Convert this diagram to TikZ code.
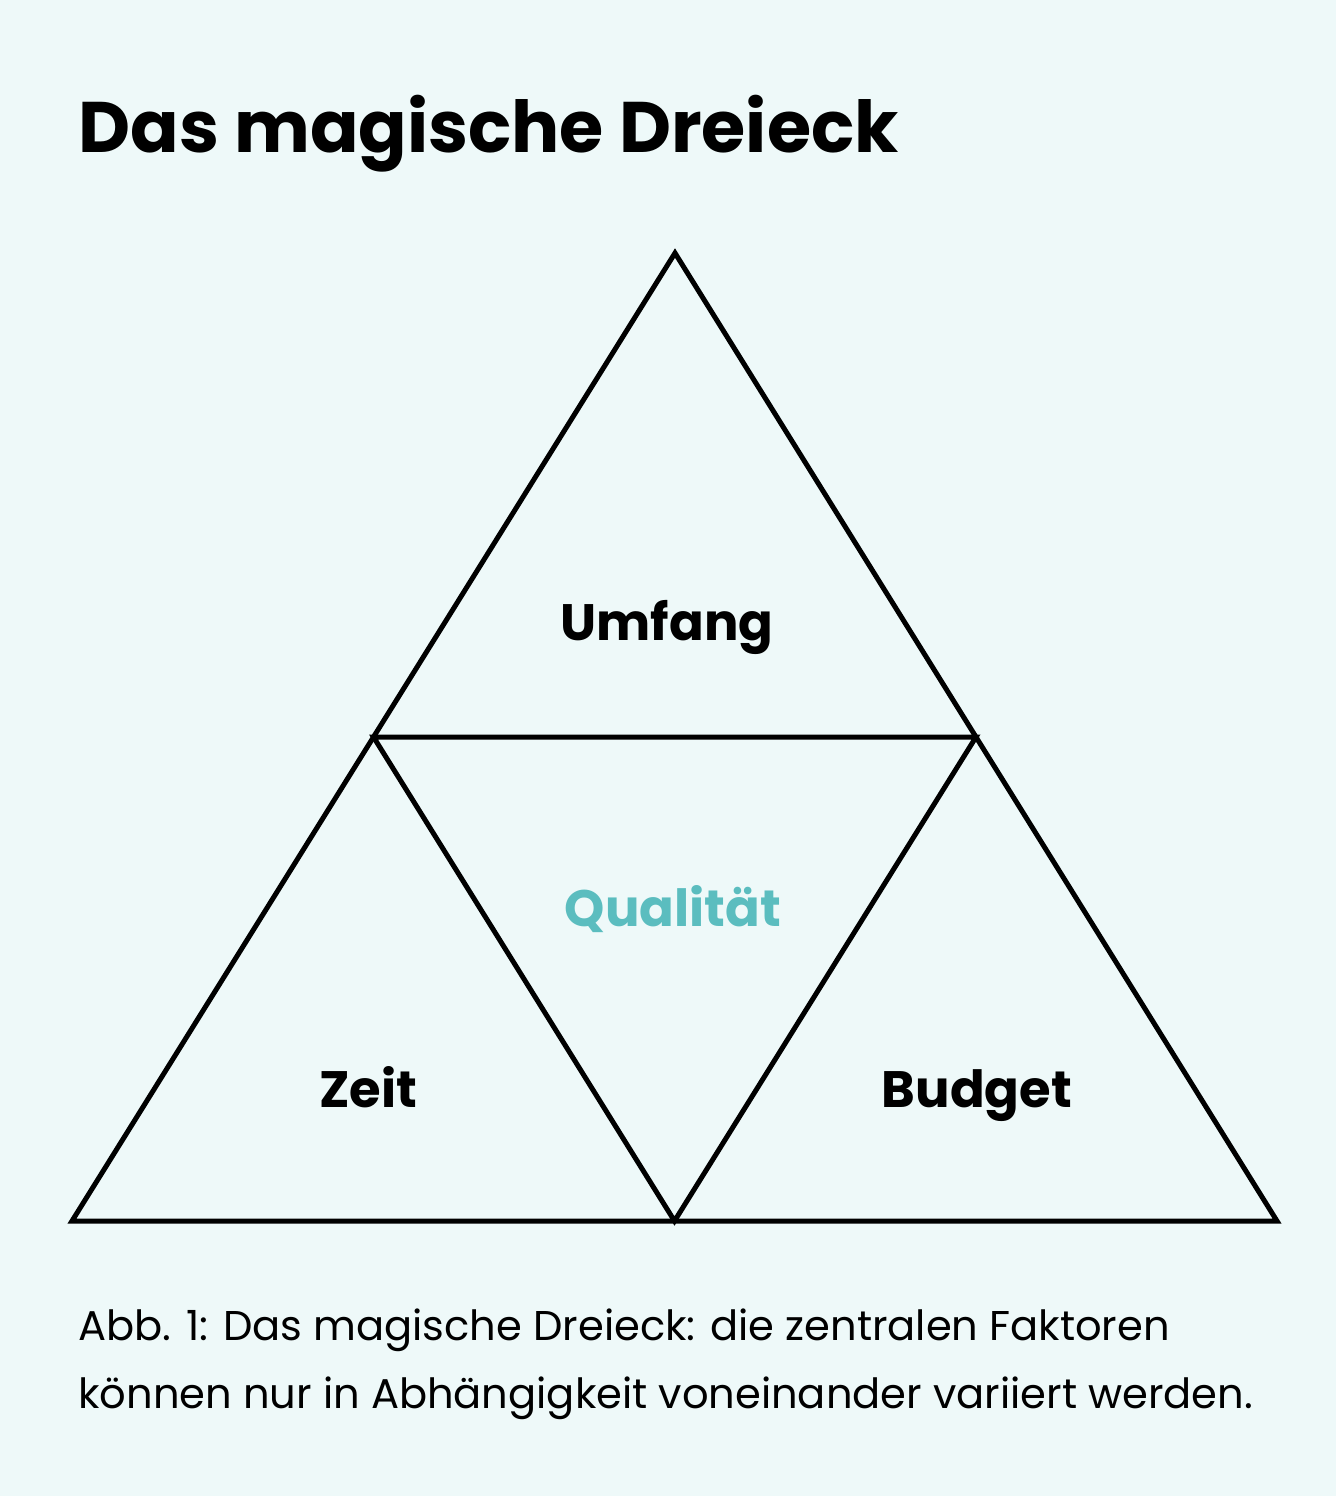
\documentclass[tikz,border=0pt]{standalone}
\usepackage{fontspec}
\setmainfont{Poppins}
\usetikzlibrary{calc}
\definecolor{bgmint}{HTML}{EEF9F9}
\definecolor{qualteal}{HTML}{5BBDBF}
\tikzset{
  edge/.style={line width=2.5pt, line join=miter},
  factor/.style={anchor=base, inner sep=0pt, font=\fontsize{25.6}{30}\selectfont\bfseries},
  caption/.style={anchor=base west, inner sep=0pt, font=\fontsize{20.8}{26}\selectfont}
}
\begin{document}
\begin{tikzpicture}[x=0.5pt,y=-0.5pt]
  % background and bounding box
  \fill[bgmint] (0,0) rectangle (1336,1496);
  \useasboundingbox (0,0) rectangle (1336,1496);

  \node[anchor=base west, inner sep=0pt, font=\fontsize{35.8}{42}\selectfont\bfseries] (title) at (78,152) {Das magische Dreieck};

  % corners of the big triangle
  \coordinate (top) at (675,253);
  \coordinate (bl) at (72,1221);
  \coordinate (br) at (1277,1221);
  % midpoints
  \coordinate (ml) at ($(top)!0.5!(bl)$);
  \coordinate (mr) at ($(top)!0.5!(br)$);
  \coordinate (mb) at ($(bl)!0.5!(br)$);

  \draw[edge] (top) -- (bl) -- (br) -- cycle;
  \draw[edge] (ml) -- (mr) -- (mb) -- cycle;

  \node[factor] (umfang) at (667,640) {Umfang};
  \node[factor, text=qualteal] (qualitaet) at (673,926) {Qualität};
  \node[factor] (zeit) at (368,1107) {Zeit};
  \node[factor] (budget) at (977,1107) {Budget};

  \node[caption] (cap1) at (78,1340) {Abb. 1: Das magische Dreieck: die zentralen Faktoren};
  \node[caption] (cap2) at (78,1408) {können nur in Abhängigkeit voneinander variiert werden.};
\end{tikzpicture}
\end{document}
